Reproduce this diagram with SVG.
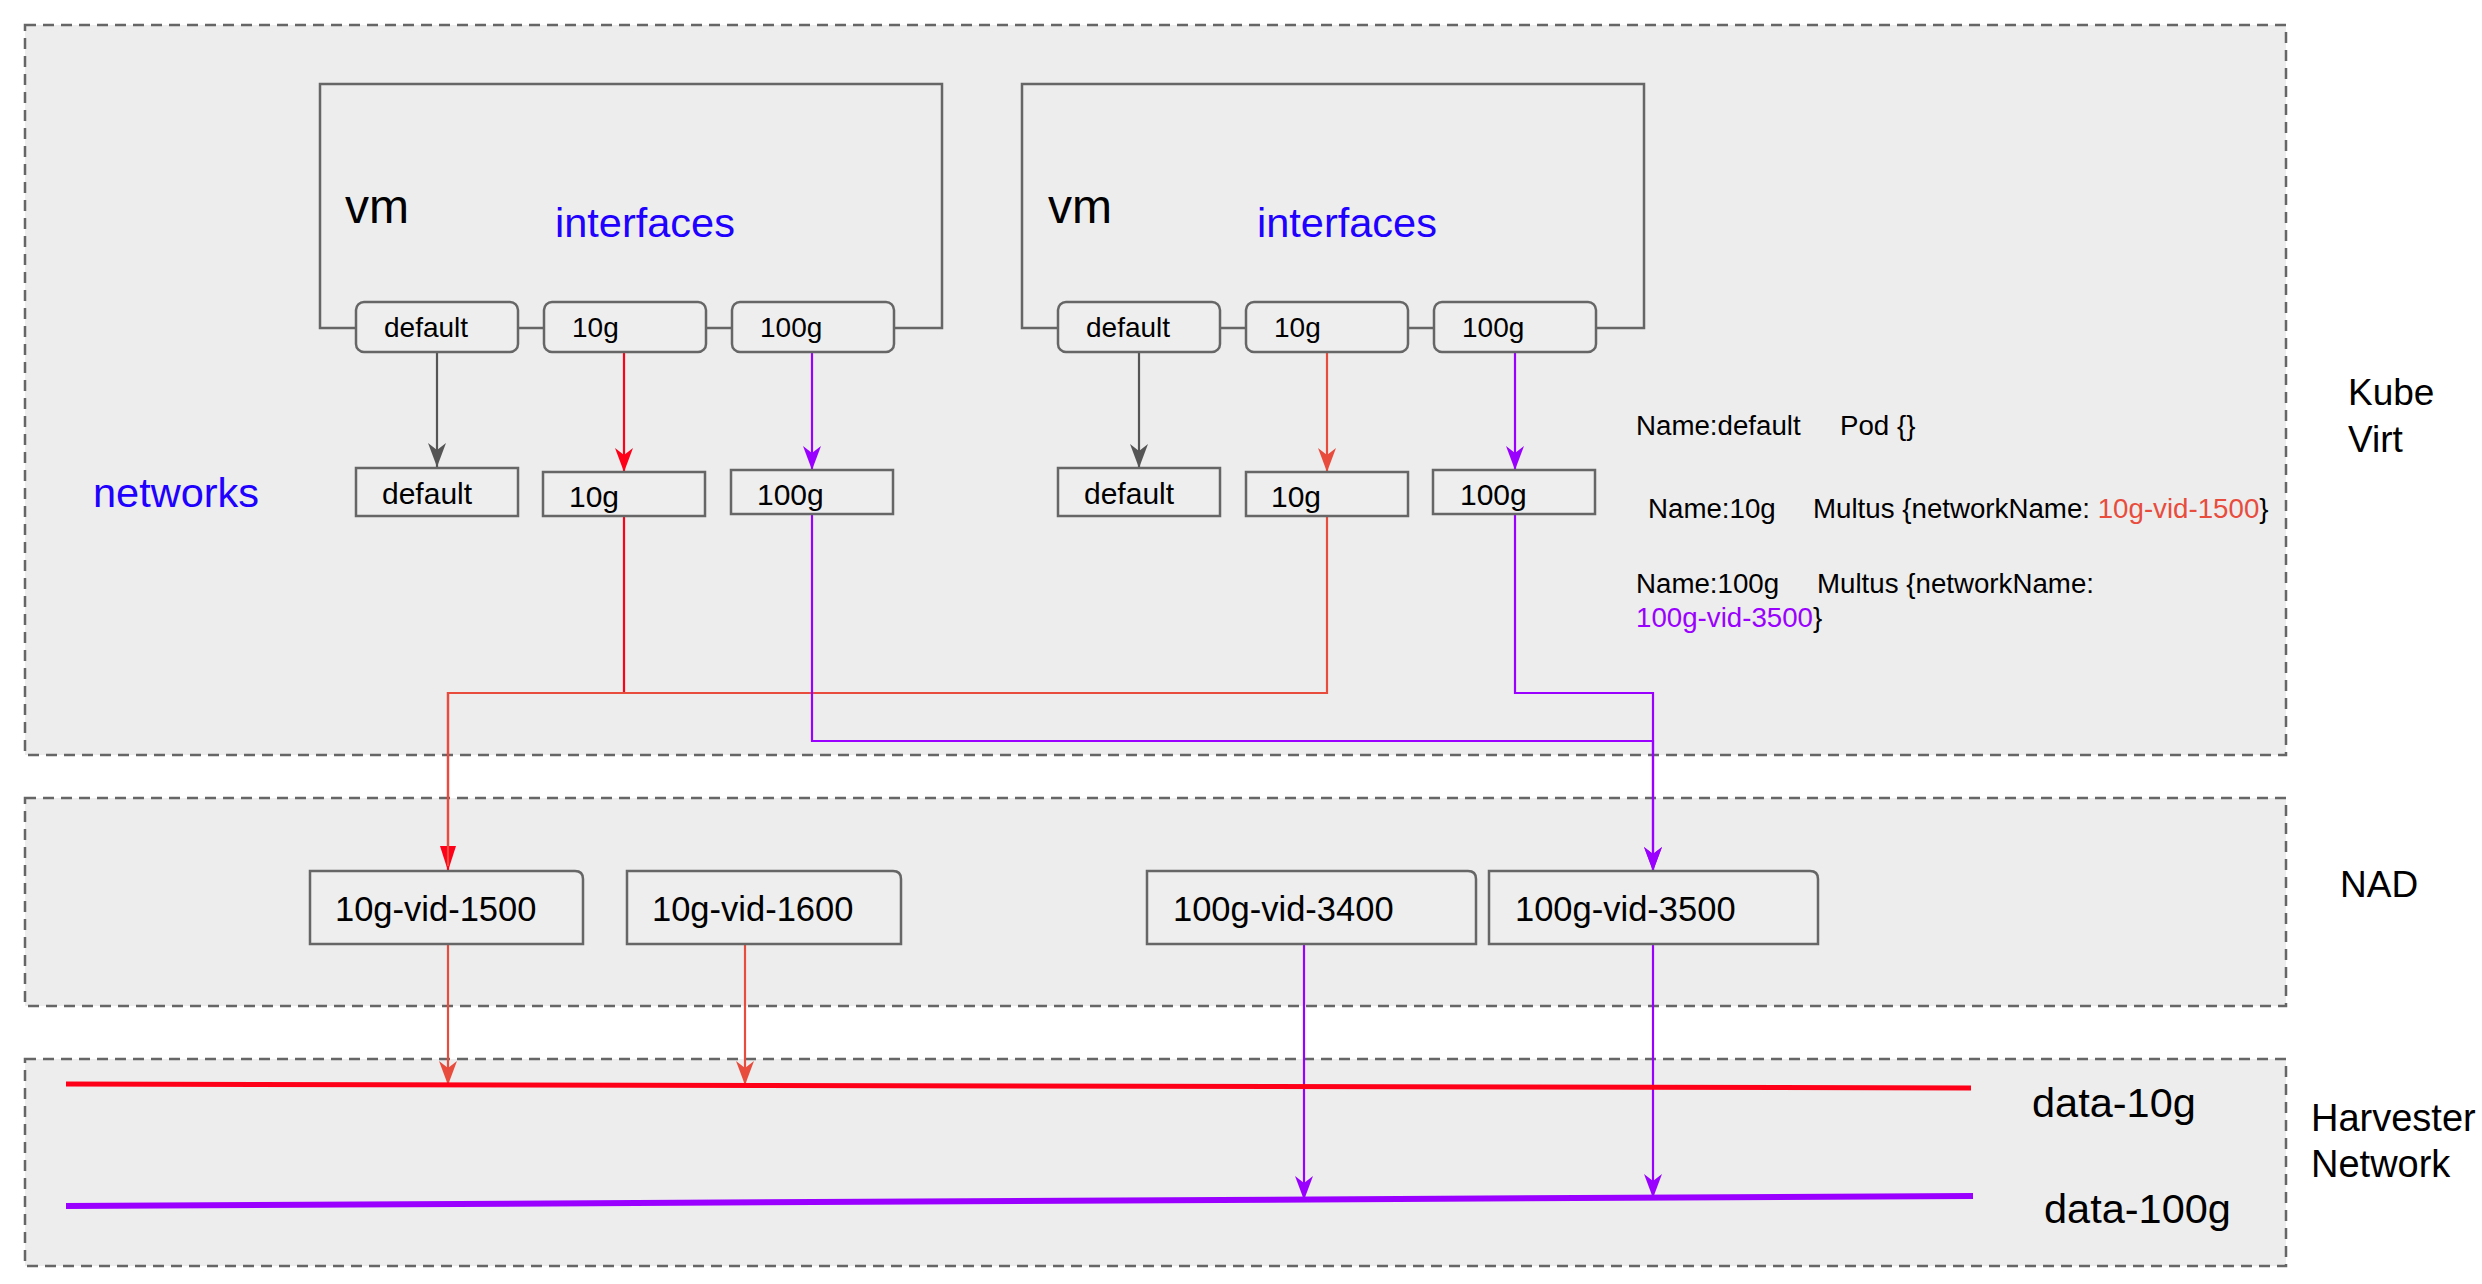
<svg xmlns="http://www.w3.org/2000/svg" width="2482" height="1284" viewBox="0 0 2482 1284">
<style>
text{font-family:"Liberation Sans",Arial,sans-serif;fill:#000}
.zone{fill:#ededed;stroke:#666;stroke-width:2.5;stroke-dasharray:11 7}
.vm{fill:none;stroke:#666;stroke-width:2.5}
.ifc{fill:#eeeeee;stroke:#666;stroke-width:2.5}
.net{fill:#eeeeee;stroke:#666;stroke-width:2.5}
.nad{fill:#eeeeee;stroke:#666;stroke-width:2.5}
.blue{fill:#2000ff}
.c{fill:none;stroke-width:2.2}
.grey{stroke:#555}
.red{stroke:#ff0019}
.lred{stroke:#e84c3d}
.pur{stroke:#9900ff}
</style>
<defs>
<marker id="aGrey" viewBox="-25 -10 26 20" refX="0" refY="0" markerUnits="userSpaceOnUse" markerWidth="26" markerHeight="20" orient="auto"><path d="M0,0 L-24,-9 L-17,0 L-24,9 Z" fill="#555"/></marker>
<marker id="aRed" viewBox="-25 -10 26 20" refX="0" refY="0" markerUnits="userSpaceOnUse" markerWidth="26" markerHeight="20" orient="auto"><path d="M0,0 L-24,-9 L-17,0 L-24,9 Z" fill="#ff0019"/></marker>
<marker id="aLRed" viewBox="-25 -10 26 20" refX="0" refY="0" markerUnits="userSpaceOnUse" markerWidth="26" markerHeight="20" orient="auto"><path d="M0,0 L-24,-9 L-17,0 L-24,9 Z" fill="#e84c3d"/></marker>
<marker id="aPur" viewBox="-25 -10 26 20" refX="0" refY="0" markerUnits="userSpaceOnUse" markerWidth="26" markerHeight="20" orient="auto"><path d="M0,0 L-24,-9 L-17,0 L-24,9 Z" fill="#9900ff"/></marker>
<marker id="bRed" viewBox="-26 -10 27 20" refX="0" refY="0" markerUnits="userSpaceOnUse" markerWidth="27" markerHeight="20" orient="auto"><path d="M0,0 L-25,-8 L-25,8 Z" fill="#ff0019"/></marker>
</defs>

<g id="zones">
<rect id="zone-kubevirt" class="zone" x="25" y="25" width="2261" height="730"/>
<rect id="zone-nad" class="zone" x="25" y="798" width="2261" height="208"/>
<rect id="zone-harvester" class="zone" x="25" y="1059" width="2261" height="207"/>
</g>

<g id="zone-labels">
<text x="2348" y="405" font-size="37">Kube</text>
<text x="2348" y="452" font-size="37">Virt</text>
<text x="2340" y="897" font-size="37">NAD</text>
<text x="2311" y="1131" font-size="38">Harvester</text>
<text x="2311" y="1177" font-size="38">Network</text>
<text x="93" y="507" font-size="41.5" class="blue">networks</text>
</g>

<g id="vm1">
<rect class="vm" x="320" y="84" width="622" height="244"/>
<text x="345" y="223" font-size="48">vm</text>
<text x="555" y="237" font-size="41.5" class="blue">interfaces</text>
</g>
<g id="vm2">
<rect class="vm" x="1022" y="84" width="622" height="244"/>
<text x="1048" y="223" font-size="48">vm</text>
<text x="1257" y="237" font-size="41.5" class="blue">interfaces</text>
</g>

<g id="connectors">
<path class="c grey" d="M437,352 V467" marker-end="url(#aGrey)"/>
<path class="c red" d="M624,352 V472" marker-end="url(#aRed)"/>
<path class="c pur" d="M812,352 V470" marker-end="url(#aPur)"/>
<path class="c grey" d="M1139,352 V468" marker-end="url(#aGrey)"/>
<path class="c lred" d="M1327,352 V472" marker-end="url(#aLRed)"/>
<path class="c pur" d="M1515,352 V470" marker-end="url(#aPur)"/>

<path class="c red" d="M624,516 V693 H448 V871" marker-end="url(#bRed)"/>
<path class="c lred" d="M1327,516 V693 H448 V866"/>
<path class="c pur" d="M812,514 V741 H1653 V871" marker-end="url(#aPur)"/>
<path class="c pur" d="M1515,514 V693 H1653 V871" marker-end="url(#aPur)"/>

<path class="c lred" d="M448,944 V1085" marker-end="url(#aLRed)"/>
<path class="c lred" d="M745,944 V1085" marker-end="url(#aLRed)"/>
<path class="c pur" d="M1304,944 V1200" marker-end="url(#aPur)"/>
<path class="c pur" d="M1653,944 V1198" marker-end="url(#aPur)"/>
</g>

<g id="vm1-interfaces">
<g id="vm1-if-default"><rect class="ifc" x="356" y="302" width="162" height="50" rx="8"/><text x="384" y="337" font-size="28">default</text></g>
<g id="vm1-if-10g"><rect class="ifc" x="544" y="302" width="162" height="50" rx="8"/><text x="572" y="337" font-size="28">10g</text></g>
<g id="vm1-if-100g"><rect class="ifc" x="732" y="302" width="162" height="50" rx="8"/><text x="760" y="337" font-size="28">100g</text></g>
</g>
<g id="vm2-interfaces">
<g id="vm2-if-default"><rect class="ifc" x="1058" y="302" width="162" height="50" rx="8"/><text x="1086" y="337" font-size="28">default</text></g>
<g id="vm2-if-10g"><rect class="ifc" x="1246" y="302" width="162" height="50" rx="8"/><text x="1274" y="337" font-size="28">10g</text></g>
<g id="vm2-if-100g"><rect class="ifc" x="1434" y="302" width="162" height="50" rx="8"/><text x="1462" y="337" font-size="28">100g</text></g>
</g>

<g id="vm1-networks">
<g id="vm1-net-default"><rect class="net" x="356" y="468" width="162" height="48"/><text x="382" y="504" font-size="30">default</text></g>
<g id="vm1-net-10g"><rect class="net" x="543" y="472" width="162" height="44"/><text x="569" y="507" font-size="30">10g</text></g>
<g id="vm1-net-100g"><rect class="net" x="731" y="470" width="162" height="44"/><text x="757" y="505" font-size="30">100g</text></g>
</g>
<g id="vm2-networks">
<g id="vm2-net-default"><rect class="net" x="1058" y="468" width="162" height="48"/><text x="1084" y="504" font-size="30">default</text></g>
<g id="vm2-net-10g"><rect class="net" x="1246" y="472" width="162" height="44"/><text x="1271" y="507" font-size="30">10g</text></g>
<g id="vm2-net-100g"><rect class="net" x="1433" y="470" width="162" height="44"/><text x="1460" y="505" font-size="30">100g</text></g>
</g>

<g id="nad-10g-vid-1500"><path class="nad" d="M310,871 H575 Q583,871 583,879 V944 H310 Z"/><text x="335" y="921" font-size="34.5">10g-vid-1500</text></g>
<g id="nad-10g-vid-1600"><path class="nad" d="M627,871 H893 Q901,871 901,879 V944 H627 Z"/><text x="652" y="921" font-size="34.5">10g-vid-1600</text></g>
<g id="nad-100g-vid-3400"><path class="nad" d="M1147,871 H1468 Q1476,871 1476,879 V944 H1147 Z"/><text x="1173" y="921" font-size="34.5">100g-vid-3400</text></g>
<g id="nad-100g-vid-3500"><path class="nad" d="M1489,871 H1810 Q1818,871 1818,879 V944 H1489 Z"/><text x="1515" y="921" font-size="34.5">100g-vid-3500</text></g>

<g id="data-10g">
<line x1="66" y1="1084" x2="1971" y2="1088" stroke="#ff0019" stroke-width="5"/>
<text x="2032" y="1117" font-size="41.5">data-10g</text>
</g>
<g id="data-100g">
<line x1="66" y1="1206" x2="1973" y2="1196" stroke="#9900ff" stroke-width="6"/>
<text x="2044" y="1223" font-size="41.5">data-100g</text>
</g>

<g id="network-spec" font-size="27.7">
<text y="435"><tspan x="1636">Name:default</tspan><tspan x="1840">Pod {}</tspan></text>
<text y="518"><tspan x="1648">Name:10g</tspan><tspan x="1813">Multus {networkName: </tspan><tspan fill="#e84c3d">10g-vid-1500</tspan><tspan>}</tspan></text>
<text y="593"><tspan x="1636">Name:100g</tspan><tspan x="1817">Multus {networkName:</tspan></text>
<text y="627"><tspan x="1636" fill="#9900ff">100g-vid-3500</tspan><tspan>}</tspan></text>
</g>
</svg>
